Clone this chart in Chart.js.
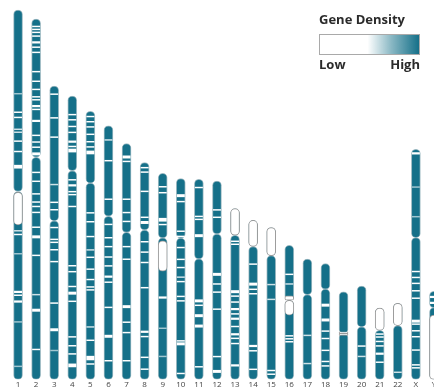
<!DOCTYPE html>
<html>
<head>
<meta charset="utf-8">
<script src="https://cdn.jsdelivr.net/npm/chart.js@4/dist/chart.umd.min.js"></script>
<style>
  html, body { margin: 0; padding: 0; background: #fff; overflow: hidden; }
  #wrap { position: relative; width: 452px; height: 391px; }
  #legend { position: absolute; left: 319px; top: 11px; width: 102px; font-family: "Open Sans", "Liberation Sans", sans-serif; color: #2b2b2b; font-weight: 700; }
  #legend .title { font-size: 13px; line-height: 17px; white-space: nowrap; }
  #legend .ramp { margin-top: 6px; width: 99px; height: 19px; border: 1px solid #a9a9a9; }
  #legend .ends { display: flex; justify-content: space-between; font-size: 13px; line-height: 15px; margin-top: 2px; width: 101px; }
</style>
</head>
<body>
<div id="wrap">
  <canvas id="chrom" width="452" height="391"></canvas>
  <div id="legend">
    <div class="title">Gene Density</div>
    <div class="ramp" id="ramp"></div>
    <div class="ends"><span>Low</span><span>High</span></div>
  </div>
</div>
<script>
// Chromosome ideogram, gene density (Mb from p-terminal)
const chromNames = ['1', '2', '3', '4', '5', '6', '7', '8', '9', '10', '11', '12',
  '13', '14', '15', '16', '17', '18', '19', '20', '21', '22', 'X', 'Y'];
const chromLengths = [249.3, 243.2, 198.0, 191.2, 180.9, 171.1, 159.1, 146.4, 139.0, 135.5, 135.0, 133.9,
  115.2, 107.3, 102.5, 90.4, 81.2, 78.1, 59.1, 63.0, 48.1, 51.3, 155.3, 59.4];
const centromeres = [122.5, 93.3, 91.0, 50.4, 48.4, 61.0, 59.9, 45.6, 43.5, 40.2, 53.7, 35.8,
  17.9, 17.6, 19.0, 37.0, 24.0, 17.2, 28.0, 27.5, 15.0, 15.0, 59.6, 11.0];
// low-density heterochromatin blocks [start, end] or null
const heteroRegions = [[123, 145], null, null, null, null, null, null, null, [45.5, 66], null, null, null,
  [0, 17.9], [0, 17.6], [0, 19], [34, 47], null, null, [27, 29.5], null, [0, 15], [0, 15], null, [16, 59.4]];
// low-density bands [start, end, density] (density 0 = low ... 1 = high)
const densityBands = [
  [[56,57,.7],[68.5,69.5,.3],[72,73,.3],[80,81,.6],[82,83,.6],[88,89,.4],[95,96,.4],[104.5,107,.1],[148.5,149.5,.6],[151,152,.5],[164,165,.7],[189.5,191,.2],[192,193,.4],[196,197.5,.2],[210,211,.7],[240,241,.7]],
  [[4.5,5.5,.3],[6.5,7.5,.4],[8.5,9.5,.3],[11,12,.4],[15,16.5,.2],[18.5,19.5,.5],[22,23,.3],[35,36,.3],[41.5,42.5,.4],[47,48,.4],[52,53,.3],[54,55,.5],[58,59.5,.2],[60.5,61.5,.4],[68,69.5,.2],[78,79,.4],[82.5,83.5,.3],[86,87,.4],[90,92,.1],[103,104,.4],[109,110,.4],[117.5,118.5,.5],[123,124,.5],[126,127,.5],[130,131,.4],[140,141,.5],[146,148,.2],[159,160,.5],[185.5,186.5,.6],[195.5,197.5,.2],[222.5,223.5,.5]],
  [[5,6,.3],[21,22,.4],[34,35,.4],[66,67,.6],[78,79,.5],[83,84,.5],[95,96,.4],[103,104,.3],[105,106,.4],[110,111,.3],[118,119,.5],[146,147,.5],[163.5,165.5,.1],[178,179,.7]],
  [[12,13,.3],[15.5,16.5,.4],[20,21,.3],[24,25,.5],[30,31.5,.3],[33.5,34.5,.5],[35.5,38,.1],[56,57,.5],[59.5,61,.2],[64,65,.4],[66,67,.4],[74,75,.5],[114,115,.5],[118,119,.5],[128,129,.3],[132,134,.1],[138,139,.4],[162,163,.4],[168,169,.5],[173.5,174.5,.5],[180.5,183,.1]],
  [[3,4,.3],[6.5,7.5,.4],[10,11,.3],[15,16,.4],[20,21,.3],[23.5,24.5,.5],[26.5,29,.1],[68,69,.5],[74,75,.5],[84,85,.4],[93,94,.6],[98,99,.5],[106,107,.5],[113,114,.5],[118,119,.5],[120,121,.5],[145,146,.6],[154,155,.4],[165,168,.1],[170,171,.5]],
  [[9,10,.6],[23,24,.4],[49,50,.5],[66,67,.5],[75,76,.4],[81,82,.5],[88,89,.4],[94,95,.4],[101,102.5,.2],[105,106,.5],[122,123,.4],[141,143,.1],[158,159,.5]],
  [[8,10,.1],[11.5,12.5,.4],[37,38,.5],[46,47,.5],[52,53,.5],[69,70,.5],[77.5,78.5,.5],[109,111,.1],[120,121,.5],[127,128,.5],[146,147,.5]],
  [[3,4,.4],[6,7,.5],[19,20,.5],[36.5,37.5,.4],[39.5,41.5,.1],[53,54,.5],[60,61,.5],[67,68,.5],[84,85,.4],[113.5,115,.2],[117,118,.4],[131,132,.4],[139,140,.4]],
  [[8.5,9.5,.5],[12.5,13.5,.5],[30,32.5,.1],[34,35,.5],[83,84.5,.3],[104,105,.7],[123,124,.7]],
  [[10.5,12.5,.1],[15,16,.4],[35,36,.5],[38.5,39.5,.5],[46,47,.5],[54,55,.5],[59.5,60.5,.5],[66,67,.6],[69,70,.5],[79,80,.3],[82,83,.5],[109,110,.5],[110.5,112.5,.1],[131,132,.5]],
  [[5,6,.5],[24.5,25.5,.4],[26.5,27.5,.4],[37,39,.1],[81,83,.1],[84.5,85.5,.4],[91,93,.1],[98,100,.1],[126,127,.5]],
  [[19,20,.5],[24,25,.4],[62,64,.1],[69,70,.5],[74.5,75.5,.5],[86,87,.5],[118,119,.5],[127.5,129.5,.1]],
  [[21.5,22.5,.4],[23.5,24.5,.5],[55,57,.1],[58.5,59.5,.4],[62.5,63.5,.3],[67,68.5,.2],[70.5,71.5,.3],[73.5,75,.2],[79,80,.4],[84,85.5,.2],[87,88,.4],[90.5,91.5,.3],[105,106.5,.1]],
  [[29,30,.4],[42,44,.1],[46,47,.4],[49,50,.4],[84,85.5,.1],[87.5,88.5,.4],[100,101,.5]],
  [[38,39,.6],[48,49,.6],[96,97,.4],[98.5,99.5,.5]],
  [[19,20,.5],[25.5,26.5,.6],[60.5,61.5,.4],[62.5,63.5,.4],[64.5,65.5,.5]],
  [[51,52,.6],[70,71,.6]],
  [[27,29,.1],[37,39,.1],[45,46,.4],[50,51,.4],[58,59,.4],[65.5,66.5,.4],[68.5,69.5,.5]],
  [],
  [[40,41,.5],[47,48,.6]],
  [[17,18,.4],[19,20,.4],[22,23,.4],[25,26,.4],[30,31.5,.3],[36,37,.4]],
  [[46,47,.6]],
  [[2,3.5,.1],[25,26,.7],[45,46,.7],[82,83,.4],[86,87,.4],[90,91,.3],[95,96,.4],[100,101,.4],[115,117,.1],[117.5,118.5,.4],[122,123,.4],[126,127,.4],[135,136,.4],[145,146,.4],[147,148,.5]],
  [[3,4.5,.1],[7,8.5,.1]]
];

const TEAL = [21, 112, 137];
const FRINGE = 'rgba(120,160,172,0.75)';

// legend ramp: white for the lower half, then up to teal
function densityColor(d) {
  const t = Math.max(0, Math.min(1, (d - 0.5) / 0.5));
  const c = TEAL.map((v) => Math.round(255 + (v - 255) * t));
  return `rgb(${c[0]},${c[1]},${c[2]})`;
}
document.getElementById('ramp').style.background =
  `linear-gradient(to right, #fff 0%, #fff 48%, ${densityColor(0.75)} 72%, ${densityColor(1)} 100%)`;

// values measured from the q-terminal (bottom-aligned chromosomes)
const pArm = chromLengths.map((L, i) => [L - centromeres[i], L]);
const qArm = chromLengths.map((L, i) => [0, L - centromeres[i]]);
const heteroP = heteroRegions.map((h, i) => {
  if (!h || h[0] >= centromeres[i]) return null;
  const L = chromLengths[i];
  return [L - Math.min(h[1], centromeres[i]), L - h[0]];
});
const heteroQ = heteroRegions.map((h, i) => {
  if (!h || h[1] <= centromeres[i]) return null;
  const L = chromLengths[i];
  return [L - h[1], L - Math.max(h[0], centromeres[i])];
});

const bandPlugin = {
  id: 'bands',
  afterDatasetDraw(chart, args) {
    if (args.index !== 2) return; // after both arms are drawn, before heterochromatin
    const { ctx } = chart;
    const y = chart.scales.y;
    const bars = chart.getDatasetMeta(2).data;
    ctx.save();
    densityBands.forEach((bands, i) => {
      const bar = bars[i];
      const half = bar.width / 2 - 0.5;
      const L = chromLengths[i];
      bands.forEach(([s, e, d]) => {
        const y0 = y.getPixelForValue(L - s);
        const y1 = y.getPixelForValue(L - e);
        ctx.fillStyle = densityColor(d);
        ctx.fillRect(bar.x - half, Math.min(y0, y1), half * 2, Math.max(1.2, Math.abs(y1 - y0)));
      });
    });
    ctx.restore();
  }
};

const armStyle = {
  backgroundColor: densityColor(1),
  borderColor: FRINGE,
  borderWidth: 1,
  borderRadius: 4.5,
  borderSkipped: false,
  barThickness: 9,
  grouped: false
};
const heteroStyle = {
  backgroundColor: '#ffffff',
  borderColor: '#9a9a9a',
  borderWidth: 1,
  borderRadius: 4.5,
  borderSkipped: false,
  barThickness: 9,
  grouped: false
};

new Chart(document.getElementById('chrom'), {
  type: 'bar',
  data: {
    labels: chromNames,
    datasets: [
      { label: 'hetero q', data: heteroQ, ...heteroStyle },
      { label: 'hetero p', data: heteroP, ...heteroStyle },
      { label: 'p arm', data: pArm, ...armStyle },
      { label: 'q arm', data: qArm, ...armStyle }
    ]
  },
  options: {
    responsive: false,
    animation: false,
    layout: { padding: { left: 9, right: 9, top: 6, bottom: 0 } },
    plugins: { legend: { display: false }, tooltip: { enabled: false } },
    scales: {
      x: {
        grid: { display: false, drawTicks: false },
        border: { display: false },
        ticks: {
          color: '#444',
          padding: 1,
          maxRotation: 0,
          autoSkip: false,
          font: { family: 'Open Sans', size: 8 }
        }
      },
      y: { display: false, min: 0, max: 252 }
    }
  },
  plugins: [bandPlugin]
});
</script>
</body>
</html>
